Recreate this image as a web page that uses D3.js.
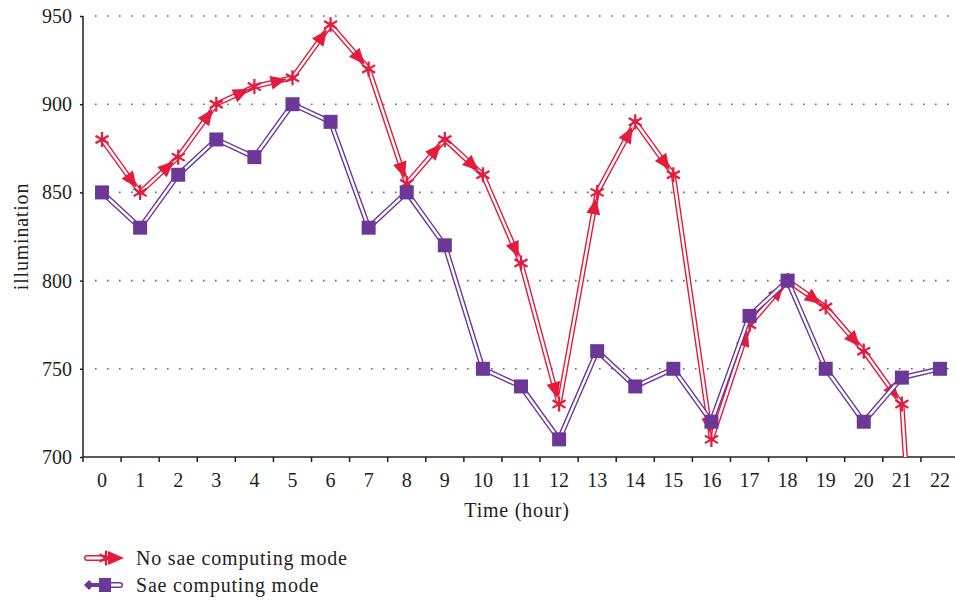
<html>
<head>
    <script src="https://d3js.org/d3.v7.min.js"></script>
    <style>
        body { margin: 0; background: #fff; }
        text { font-family: "Liberation Serif", "DejaVu Serif", serif; fill: #231f20; }
        .label { font-size: 20px; letter-spacing: 0.8px; }
        .grid line { stroke: #666; stroke-width: 1.6; stroke-dasharray: 1.6, 10.4; }
        .axis path, .axis line { stroke: #231f20; stroke-width: 1.5; }
    </style>
</head>
<body>
    <svg id="chart"></svg>
    <script>
        const hours = d3.range(0, 23).map(String);
        const noSae = [880, 850, 870, 900, 910, 915, 945, 920, 855, 880, 860, 810, 730,
                       850, 890, 860, 710, 775, 800, 785, 760, 730, 400];
        const sae = [850, 830, 860, 880, 870, 900, 890, 830, 850, 820, 750, 740, 710,
                     760, 740, 750, 720, 780, 800, 750, 720, 745, 750];
        const yTicks = [700, 750, 800, 850, 900, 950];
        const seriesNames = ["No sae computing mode", "Sae computing mode"];

        const red = "#e31b3d";
        const purple = "#6b3898";

        const W = 955, H = 601;
        const margin = { top: 16, left: 83, right: -4, bottom: 144 };
        const width = W - margin.left - margin.right;
        const height = H - margin.top - margin.bottom;

        const svg = d3.select("#chart").attr("width", W).attr("height", H);
        const g = svg.append("g").attr("transform", `translate(${margin.left},${margin.top})`);

        const x = d3.scaleBand().domain(hours).range([0, width]);
        const y = d3.scaleLinear().domain([700, 950]).range([height, 0]);
        const cx = d => x(d) + x.bandwidth() / 2;

        // dotted grid
        g.append("g")
            .attr("class", "grid")
            .selectAll("line")
            .data(yTicks.filter(d => d > 700))
            .enter().append("line")
            .attr("x1", 12).attr("x2", width - 8)
            .attr("y1", d => y(d)).attr("y2", d => y(d));

        // axes
        const yAxis = g.append("g").attr("class", "axis")
            .call(d3.axisLeft(y).tickValues(yTicks).tickSize(3).tickPadding(8));
        yAxis.select(".domain").attr("d", `M0,0V${height}`);
        yAxis.selectAll("text").style("font-size", "20px");

        const xAxis = g.append("g").attr("class", "axis")
            .attr("transform", `translate(0,${height})`)
            .call(d3.axisBottom(x).tickSize(0).tickPadding(16));
        xAxis.select(".domain").attr("d", `M0,0H${width}`);
        xAxis.selectAll("text").style("font-size", "20px");
        // tick marks sit on band edges
        xAxis.selectAll(".edge")
            .data(hours.slice(1))
            .enter().append("line")
            .attr("class", "edge")
            .attr("x1", d => x(d)).attr("x2", d => x(d))
            .attr("y1", 0).attr("y2", 5);
        xAxis.append("line").attr("x1", 0).attr("x2", 0).attr("y1", 0).attr("y2", 5);

        svg.append("text")
            .attr("class", "label")
            .attr("transform", `translate(21,${margin.top + height / 2}) rotate(-90)`)
            .attr("text-anchor", "middle")
            .attr("dy", "0.35em")
            .text("illumination");

        svg.append("text")
            .attr("class", "label")
            .attr("x", margin.left + width / 2 - 4)
            .attr("y", 517)
            .attr("text-anchor", "middle")
            .text("Time (hour)");

        // plot
        svg.append("clipPath").attr("id", "clip")
            .append("rect").attr("x", -20).attr("y", -20)
            .attr("width", width + 40).attr("height", height + 20);

        const plot = g.append("g").attr("clip-path", "url(#clip)");

        const line = d3.line().x((d, i) => cx(hours[i])).y(d => y(d));

        function doubleLine(sel, values, color) {
            sel.append("path").attr("d", line(values))
                .attr("fill", "none").attr("stroke", color)
                .attr("stroke-width", 5.2).attr("stroke-linejoin", "miter");
            sel.append("path").attr("d", line(values))
                .attr("fill", "none").attr("stroke", "#fff")
                .attr("stroke-width", 2.4).attr("stroke-linejoin", "miter");
        }

        // red series
        const redG = plot.append("g");
        doubleLine(redG, noSae, red);

        const arrow = "M8,0L-8,-7L-8,7Z";
        redG.selectAll(".arrow")
            .data(noSae.slice(1).map((v, i) => [i, v]))
            .enter().append("path")
            .attr("class", "arrow")
            .attr("fill", red)
            .attr("transform", ([i, v]) => {
                const x0 = cx(hours[i]), y0 = y(noSae[i]);
                const x1 = cx(hours[i + 1]), y1 = y(v);
                const len = Math.hypot(x1 - x0, y1 - y0);
                const ux = (x1 - x0) / len, uy = (y1 - y0) / len;
                const ang = Math.atan2(y1 - y0, x1 - x0) * 180 / Math.PI;
                return `translate(${x1 - ux * 14},${y1 - uy * 14}) rotate(${ang})`;
            })
            .attr("d", arrow);

        const star = d3.symbol().type(d3.symbolAsterisk).size(160);
        redG.selectAll(".star")
            .data(noSae)
            .enter().append("path")
            .attr("class", "star")
            .attr("transform", (d, i) => `translate(${cx(hours[i])},${y(d)})`)
            .attr("d", star)
            .attr("fill", "none").attr("stroke", red).attr("stroke-width", 2.2);

        // purple series
        const purG = plot.append("g");
        doubleLine(purG, sae, purple);
        purG.selectAll(".sq")
            .data(sae)
            .enter().append("rect")
            .attr("x", (d, i) => cx(hours[i]) - 7)
            .attr("y", d => y(d) - 7)
            .attr("width", 14).attr("height", 14)
            .attr("fill", purple);

        // legend
        const legend = svg.append("g").attr("transform", "translate(83,558)");
        const lg1 = legend.append("g");
        lg1.append("path").attr("d", "M4,0H22").attr("stroke", red).attr("stroke-width", 6).attr("stroke-linecap", "round");
        lg1.append("path").attr("d", "M4,0H22").attr("stroke", "#fff").attr("stroke-width", 3).attr("stroke-linecap", "round");
        lg1.append("path").attr("transform", "translate(23,0)").attr("d", star)
            .attr("fill", "none").attr("stroke", red).attr("stroke-width", 2.2);
        lg1.append("path").attr("transform", "translate(33,0)").attr("d", arrow).attr("fill", red);
        lg1.append("text").attr("class", "label").attr("x", 53).attr("dy", "0.35em").text(seriesNames[0]);

        const lg2 = legend.append("g").attr("transform", "translate(0,27)");
        lg2.append("path").attr("d", "M18,0H37").attr("stroke", purple).attr("stroke-width", 6).attr("stroke-linecap", "round");
        lg2.append("path").attr("d", "M18,0H37").attr("stroke", "#fff").attr("stroke-width", 3).attr("stroke-linecap", "round");
        lg2.append("path").attr("d", "M1,0L6,-5L11,0L6,5Z").attr("fill", purple);
        lg2.append("path").attr("d", "M8,0H18").attr("stroke", purple).attr("stroke-width", 4);
        lg2.append("rect").attr("x", 16).attr("y", -7).attr("width", 12).attr("height", 14).attr("fill", purple);
        lg2.append("text").attr("class", "label").attr("x", 53).attr("dy", "0.35em").text(seriesNames[1]);
    </script>
</body>
</html>
